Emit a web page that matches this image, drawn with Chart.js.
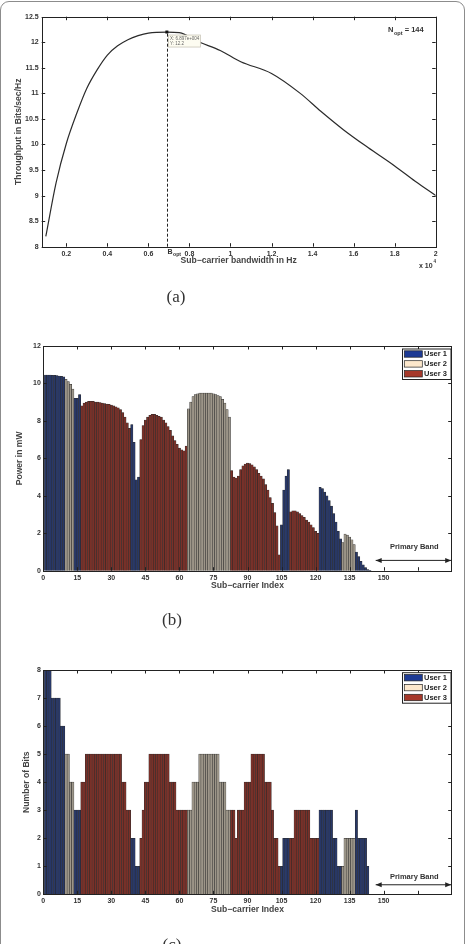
<!DOCTYPE html>
<html>
<head>
<meta charset="utf-8">
<script src="https://cdn.jsdelivr.net/npm/chart.js@4.4.0/dist/chart.umd.min.js"></script>
<style>
  body { margin: 0; background: #fff; width: 467px; height: 944px; overflow: hidden; position: relative; }
  #frame { position: absolute; left: 0; top: 1px; width: 463px; height: 990px; border: 1.5px solid #8c8c8c; border-radius: 9px; }
  canvas { position: absolute; left: 0; }
  .lbl { position: absolute; width: 60px; text-align: center; font-family: 'Liberation Serif', 'DejaVu Serif', serif; font-size: 17px; color: #333; line-height: 20px; }
</style>
</head>
<body>
<div id="frame"></div>
<canvas id="chartA" width="467" height="300" style="top:0px"></canvas>
<canvas id="chartB" width="467" height="290" style="top:330px"></canvas>
<canvas id="chartC" width="467" height="290" style="top:650px"></canvas>
<div class="lbl" style="left:146px;top:287px">(a)</div>
<div class="lbl" style="left:142px;top:610px">(b)</div>
<div class="lbl" style="left:142px;top:935px">(c)</div>

<script>
// (a) throughput vs sub-carrier bandwidth, bandwidth in units of 10^4 Hz
const bandwidth  = [0.1, 0.15, 0.2, 0.25, 0.3, 0.35, 0.4, 0.45, 0.5, 0.55, 0.6, 0.69, 0.75, 0.85, 0.95, 1.05, 1.2, 1.34, 1.44, 1.55, 1.67, 1.8, 1.9, 2.0];
const throughput = [8.2, 9.25, 10.02, 10.6, 11.1, 11.46, 11.75, 11.93, 12.05, 12.13, 12.18, 12.2, 12.19, 12.0, 11.84, 11.62, 11.39, 11.0, 10.65, 10.29, 9.94, 9.58, 9.28, 9.0];
const bOpt = 0.69, peakThroughput = 12.2, nOpt = 144;
const bandwidthTicks = [0.2, 0.4, 0.6, 0.8, 1, 1.2, 1.4, 1.6, 1.8, 2];

// (b), (c) allocation per sub-carrier (1..144): owning user, power in mW, bits
const owner = [
  1,1,1,1,1,1,1,1,1,
  2,2,2,2,
  1,1,1,
  3,3,3,3,3,3,3,3,3,3,3,3,3,3,3,3,3,3,3,3,3,3,
  1,1,1,1,
  3,3,3,3,3,3,3,3,3,3,3,3,3,3,3,3,3,3,3,3,3,
  2,2,2,2,2,2,2,2,2,2,2,2,2,2,2,2,2,2,2,
  3,3,3,3,3,3,3,3,3,3,3,3,3,3,3,3,3,3,3,3,3,3,
  1,1,1,1,
  3,3,3,3,3,3,3,3,3,3,3,3,3,
  1,1,1,1,1,1,1,1,1,1,
  2,2,2,2,2,2,
  1,1,1,1,1,1,1
];
const power = [
  10.45,10.45,10.45,10.44,10.43,10.42,10.4,10.38,10.35,
  10.22,10.1,9.95,9.7,
  9.2,9.2,9.4,
  8.8,8.95,9.0,9.05,9.05,9.05,9.0,9.0,8.98,8.95,8.92,8.9,8.88,8.85,8.8,8.75,8.7,8.6,8.45,8.2,7.9,7.6,
  7.8,6.85,4.85,5.0,
  7.0,7.75,8.05,8.2,8.3,8.35,8.35,8.3,8.25,8.2,8.05,7.9,7.7,7.5,7.2,6.95,6.75,6.55,6.45,6.4,6.65,
  8.65,9.0,9.3,9.4,9.45,9.48,9.48,9.48,9.48,9.48,9.48,9.45,9.4,9.35,9.3,9.15,8.95,8.6,8.2,
  5.35,5.0,4.95,5.05,5.4,5.6,5.7,5.75,5.72,5.65,5.55,5.4,5.2,5.05,4.9,4.6,4.3,3.9,3.6,3.1,2.4,0.85,
  2.45,4.3,5.05,5.4,
  3.15,3.2,3.2,3.15,3.05,2.95,2.85,2.7,2.6,2.45,2.3,2.1,2.0,
  4.45,4.38,4.2,4.0,3.75,3.45,3.05,2.6,2.1,1.7,
  1.5,1.95,1.9,1.8,1.65,1.4,
  1.0,0.75,0.5,0.32,0.17,0.06,0.02
];
const bits = [
  8,8,8,7,7,7,7,6,6,
  5,5,4,4,
  3,3,3,
  4,4,5,5,5,5,5,5,5,5,5,5,5,5,5,5,5,5,4,4,3,3,
  2,2,1,1,
  2,3,4,4,5,5,5,5,5,5,5,5,5,4,4,4,3,3,3,3,3,
  3,3,4,4,4,5,5,5,5,5,5,5,5,5,4,4,4,3,3,
  3,3,2,3,3,3,4,4,4,5,5,5,5,5,5,4,4,4,3,2,2,1,
  1,2,2,2,
  2,2,3,3,3,3,3,3,3,2,2,2,2,
  3,3,3,3,3,3,2,2,1,1,
  1,2,2,2,2,2,
  3,2,2,2,2,1,0
];
const userNames = ['User 1', 'User 2', 'User 3'];
const indexTicks = [0, 15, 30, 45, 60, 75, 90, 105, 120, 135, 150, 165];

const barFill    = ['#283868', '#9d9689', '#7a3028'];
const legendFill = ['#1d3a94', '#fde8cc', '#a6382a'];
const sans = "'Liberation Sans', Arial, sans-serif";
const tickFont  = { family: sans, size: 7, weight: 'bold' };
const titleFont = { family: sans, size: 8.6, weight: 'bold' };
const ink = '#333';

// matlab style box with inward ticks on all four sides
const boxPlugin = {
  id: 'box',
  afterDatasetsDraw(chart) {
    const { ctx, chartArea: a, scales: { x, y } } = chart;
    ctx.save();
    ctx.strokeStyle = '#222';
    ctx.lineWidth = 1;
    ctx.beginPath();
    x.ticks.forEach(t => {
      const px = Math.round(x.getPixelForValue(t.value)) + 0.5;
      ctx.moveTo(px, a.bottom); ctx.lineTo(px, a.bottom - 3.5);
      ctx.moveTo(px, a.top); ctx.lineTo(px, a.top + 3.5);
    });
    y.ticks.forEach(t => {
      const py = Math.round(y.getPixelForValue(t.value)) + 0.5;
      ctx.moveTo(a.left, py); ctx.lineTo(a.left + 3.5, py);
      ctx.moveTo(a.right, py); ctx.lineTo(a.right - 3.5, py);
    });
    ctx.stroke();
    ctx.strokeRect(Math.round(a.left) + 0.5, Math.round(a.top) + 0.5, Math.round(a.width), Math.round(a.height));
    ctx.restore();
  }
};

function subText(ctx, main, sub, x, y, size) {
  ctx.font = 'bold ' + size + 'px ' + sans;
  ctx.fillText(main, x, y);
  const w = ctx.measureText(main).width;
  ctx.font = 'bold ' + (size * 0.75) + 'px ' + sans;
  ctx.fillText(sub, x + w + 0.5, y + size * 0.35);
  return x + w + 0.5 + ctx.measureText(sub).width;
}

const annotA = {
  id: 'annotA',
  afterDatasetsDraw(chart) {
    const { ctx, scales: { x, y } } = chart;
    const px = x.getPixelForValue(bOpt), py = y.getPixelForValue(peakThroughput);
    ctx.save();
    ctx.strokeStyle = '#222';
    ctx.lineWidth = 1;
    ctx.setLineDash([3, 2]);
    ctx.beginPath();
    ctx.moveTo(Math.round(px) + 0.5, y.getPixelForValue(8));
    ctx.lineTo(Math.round(px) + 0.5, py);
    ctx.stroke();
    ctx.setLineDash([]);
    ctx.fillStyle = '#111';
    ctx.fillRect(px - 1.5, py - 1.5, 3, 3);
    // data tip
    ctx.fillStyle = '#fdfcf1';
    ctx.strokeStyle = '#c9c6b8';
    ctx.lineWidth = 0.8;
    ctx.fillRect(px + 1.5, py + 3, 32, 12);
    ctx.strokeRect(px + 1.5, py + 3, 32, 12);
    ctx.fillStyle = '#666';
    ctx.font = '4.5px ' + sans;
    ctx.textBaseline = 'middle';
    ctx.fillText('X: 6.897e+004', px + 3, py + 6.5);
    ctx.fillText('Y: 12.2', px + 3, py + 11.5);
    // labels
    ctx.fillStyle = ink;
    ctx.textBaseline = 'alphabetic';
    const e = subText(ctx, 'N', 'opt', 388, 32, 7.5);
    ctx.font = 'bold 7.5px ' + sans;
    ctx.fillText(' = ' + nOpt, e, 32);
    subText(ctx, 'B', 'opt', px + 0.5, 253.5, 7);
    ctx.font = 'bold 7px ' + sans;
    ctx.fillText('x 10', 419, 267.5);
    ctx.font = 'bold 4.5px ' + sans;
    ctx.fillText('4', 433.5, 263);
    ctx.restore();
  }
};

new Chart(document.getElementById('chartA'), {
  type: 'scatter',
  data: {
    datasets: [{
      data: bandwidth.map((b, i) => ({ x: b, y: throughput[i] })),
      showLine: true,
      borderColor: '#2b2b2b',
      borderWidth: 1.2,
      pointRadius: 0,
      cubicInterpolationMode: 'monotone'
    }]
  },
  options: {
    responsive: false,
    animation: false,
    events: [],
    layout: { padding: { left: 0, top: 16.7, right: 31.3, bottom: 0 } },
    plugins: { legend: { display: false }, tooltip: { enabled: false } },
    scales: {
      x: {
        type: 'linear', min: 0.08, max: 2,
        grid: { display: false, drawTicks: false }, border: { display: false },
        afterBuildTicks: s => { s.ticks = bandwidthTicks.map(v => ({ value: v })); },
        afterFit: s => { s.height = 53.3; },
        ticks: { font: tickFont, color: ink, padding: 3, maxRotation: 0, autoSkip: false, callback: v => String(+v.toFixed(1)) },
        title: { display: true, text: 'Sub−carrier bandwidth in Hz', font: titleFont, color: '#444', padding: { top: 0, bottom: 33.8 } }
      },
      y: {
        min: 8, max: 12.5,
        grid: { display: false, drawTicks: false }, border: { display: false },
        afterFit: s => { s.width = 41.7; },
        ticks: { stepSize: 0.5, font: tickFont, color: ink, padding: 3, callback: v => String(v) },
        title: { display: true, text: 'Throughput in Bits/sec/Hz', font: titleFont, color: '#444', padding: { top: 13.1, bottom: 0 } }
      }
    }
  },
  plugins: [boxPlugin, annotA]
});

function allocationPlugin(arrowY, textY, legendTop) {
  return {
    id: 'allocation',
    afterDatasetsDraw(chart) {
      const { ctx, chartArea: a, scales: { x, y } } = chart;
      ctx.save();
      // primary band arrow
      const x0 = x.getPixelForValue(146.5), x1 = x.getPixelForValue(180) - 0.5, ay = y.getPixelForValue(arrowY);
      ctx.strokeStyle = '#222';
      ctx.fillStyle = '#222';
      ctx.lineWidth = 1;
      ctx.beginPath();
      ctx.moveTo(x0, ay); ctx.lineTo(x1, ay);
      ctx.stroke();
      ctx.beginPath();
      ctx.moveTo(x0, ay); ctx.lineTo(x0 + 6, ay - 2.5); ctx.lineTo(x0 + 6, ay + 2.5); ctx.closePath();
      ctx.moveTo(x1, ay); ctx.lineTo(x1 - 6, ay - 2.5); ctx.lineTo(x1 - 6, ay + 2.5); ctx.closePath();
      ctx.fill();
      ctx.fillStyle = ink;
      ctx.font = 'bold 7.5px ' + sans;
      ctx.textAlign = 'center';
      ctx.textBaseline = 'middle';
      ctx.fillText('Primary Band', x.getPixelForValue(163.5), y.getPixelForValue(textY));
      // legend
      const lx = 402.5, ly = a.top + legendTop;
      ctx.fillStyle = '#fff';
      ctx.fillRect(lx, ly, 48.5, 30.5);
      ctx.strokeStyle = '#222';
      ctx.strokeRect(lx, ly, 48.5, 30.5);
      ctx.textAlign = 'left';
      userNames.forEach((name, i) => {
        const cy = ly + 5 + i * 9.9;
        ctx.fillStyle = legendFill[i];
        ctx.fillRect(lx + 1.8, cy - 3.2, 18, 6.4);
        ctx.lineWidth = 0.7;
        ctx.strokeRect(lx + 1.8, cy - 3.2, 18, 6.4);
        ctx.fillStyle = '#222';
        ctx.fillText(name, lx + 21.5, cy + 0.3);
      });
      ctx.restore();
    }
  };
}

function allocationChart(id, values, yMax, yStep, yTitle, sizes) {
  return new Chart(document.getElementById(id), {
    type: 'bar',
    data: {
      datasets: [{
        data: values.map((v, i) => ({ x: i + 1, y: v })),
        backgroundColor: owner.map(u => barFill[u - 1]),
        borderColor: '#2a2a2a',
        borderWidth: 0.5,
        barPercentage: 1,
        categoryPercentage: 1
      }]
    },
    options: {
      responsive: false,
      animation: false,
      events: [],
      layout: { padding: { left: 0, top: sizes.top, right: 15.3, bottom: 0 } },
      plugins: { legend: { display: false }, tooltip: { enabled: false } },
      scales: {
        x: {
          type: 'linear', min: 0, max: 180, offset: false,
          grid: { display: false, drawTicks: false, offset: false }, border: { display: false },
          afterBuildTicks: s => { s.ticks = indexTicks.map(v => ({ value: v })); },
          afterFit: s => { s.height = sizes.xHeight; },
          ticks: { font: tickFont, color: ink, padding: 3, maxRotation: 0, autoSkip: false, callback: v => v <= 150 ? String(v) : '' },
          title: { display: true, text: 'Sub−carrier Index', font: titleFont, color: '#444', padding: { top: 0, bottom: sizes.xTitle } }
        },
        y: {
          min: 0, max: yMax,
          grid: { display: false, drawTicks: false }, border: { display: false },
          afterFit: s => { s.width = 43.3; },
          ticks: { stepSize: yStep, font: tickFont, color: ink, padding: 2.5 },
          title: { display: true, text: yTitle, font: titleFont, color: '#444', padding: { top: sizes.yTitle, bottom: 0 } }
        }
      }
    },
    plugins: [boxPlugin, allocationPlugin(sizes.arrowY, sizes.textY, sizes.legendTop)]
  });
}

allocationChart('chartB', power, 12, 2, 'Power in mW',
  { top: 16, xHeight: 49.3, xTitle: 28.8, yTitle: 14.5, arrowY: 0.55, textY: 1.26, legendTop: 3 });
allocationChart('chartC', bits, 8, 1, 'Number of Bits',
  { top: 20, xHeight: 45.7, xTitle: 24.8, yTitle: 21.5, arrowY: 0.34, textY: 0.62, legendTop: 2.7 });
</script>
</body>
</html>
